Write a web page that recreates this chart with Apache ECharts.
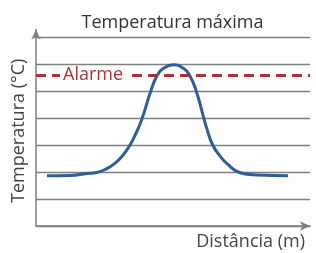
<!DOCTYPE html>
<html>
<head>
<meta charset="utf-8">
<script src="https://cdn.jsdelivr.net/npm/echarts@6/dist/echarts.min.js"></script>
<style>
	html, body { margin: 0; padding: 0; background: #fff; }
	#container { width: 316px; height: 253px; }
</style>
</head>
<body>
<div id="container"></div>
<script>
// distância (0-100) e temperatura
var distancia = [4, 12.4, 18.6, 22.2, 25.2, 28.8, 31.8, 34.3, 36.1, 38.6, 41.9, 44.3, 46.5, 50.1, 53.8, 56, 58.4, 61, 62.4, 64.5, 67.2, 69.6, 74.5, 80.7, 92];
var temperatura = [1.87, 1.88, 1.95, 1.99, 2.1, 2.33, 2.64, 3.01, 3.36, 3.96, 5.02, 5.61, 5.86, 5.99, 5.86, 5.61, 5.04, 4.1, 3.6, 3.01, 2.6, 2.33, 1.98, 1.9, 1.87];
var alarme = 5.6;

function initCharts() {
	var dom = document.getElementById( "container" );
	var myChart = echarts.init( dom );
	var pontos = distancia.map( function( d, i ) {
		return [ d, temperatura[i] ];
	} );
	var fonte = 'Open Sans, Liberation Sans, sans-serif';

	var option = {
		animation: false,
		title: {
			text: 'Temperatura máxima',
			left: 167.5,
			top: 9,
			textAlign: 'center',
			textStyle: { fontFamily: fonte, fontSize: 18, fontWeight: 'normal', color: '#333' }
		},
		grid: { left: 36, right: 6, top: 29.6, bottom: 27, containLabel: false },
		xAxis: {
			type: 'value',
			min: 0,
			max: 100,
			name: 'Distância (m)',
			nameLocation: 'end',
			nameGap: -5,
			nameTextStyle: {
				fontFamily: fonte, fontSize: 18, color: '#444',
				align: 'right', verticalAlign: 'top', padding: [7, 0, 0, 0]
			},
			axisLine: {
				show: true,
				symbol: [ 'none', 'arrow' ],
				symbolSize: [ 7, 10 ],
				lineStyle: { color: '#7f7f7f', width: 1.5 }
			},
			axisTick: { show: false },
			axisLabel: { show: false },
			splitLine: { show: false }
		},
		yAxis: {
			type: 'value',
			min: 0,
			max: 7.3,
			interval: 1,
			name: 'Temperatura (°C)',
			nameLocation: 'middle',
			nameGap: 8,
			nameTextStyle: { fontFamily: fonte, fontSize: 18, color: '#444', padding: [ 0, 6, 0, 0 ] },
			axisLine: {
				show: true,
				symbol: [ 'none', 'arrow' ],
				symbolSize: [ 7, 10 ],
				lineStyle: { color: '#7f7f7f', width: 1.5 }
			},
			axisTick: { show: false },
			axisLabel: { show: false },
			splitLine: {
				show: true,
				showMaxLine: false,
				lineStyle: { color: '#7f7f7f', width: 1.3 }
			}
		},
		series: [
			{
				type: 'line',
				data: pontos,
				smooth: 0.5,
				showSymbol: false,
				lineStyle: { color: '#2e5e97', width: 3 },
				markLine: {
					silent: true,
					symbol: 'none',
					lineStyle: { color: '#a83434', width: 2.8, type: [ 10, 6 ] },
					label: {
						show: true,
						position: 'insideStart',
						distance: 24,
						formatter: 'Alarme',
						fontFamily: fonte,
						fontSize: 18,
						color: '#a83434',
						backgroundColor: '#fff',
						padding: [ 0, 3 ]
					},
					data: [
						[ { coord: [ 0, alarme ] }, { coord: [ 100, alarme ] } ]
					]
				}
			}
		]
	};

	myChart.setOption( option, true );
}
initCharts();
</script>
</body>
</html>
